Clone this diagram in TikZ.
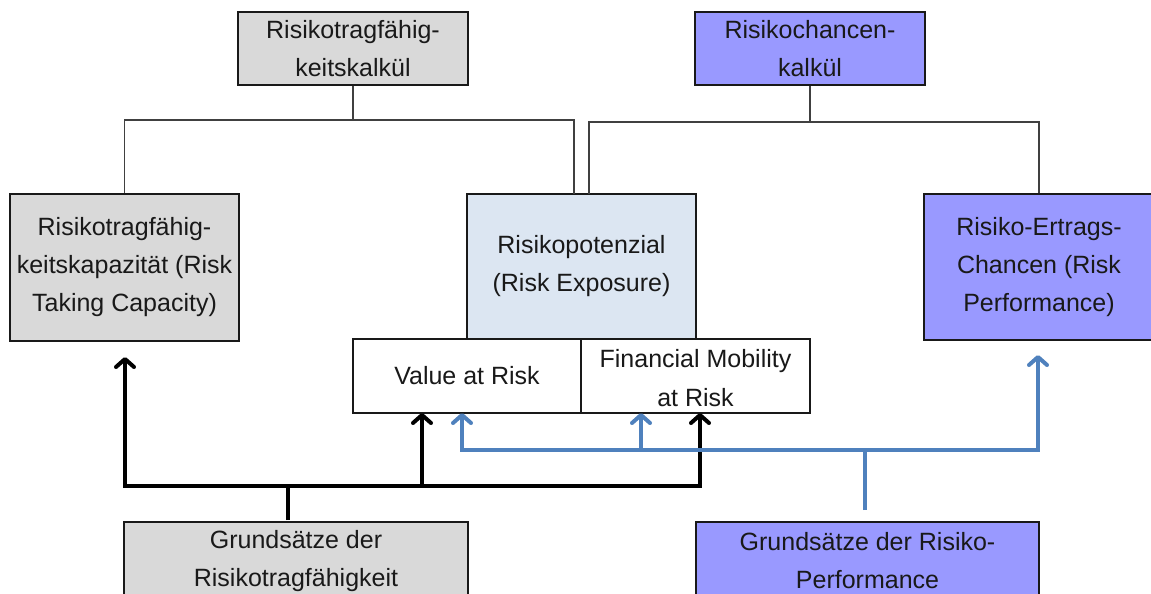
\documentclass[tikz,border=0pt]{standalone}
\usepackage{fontspec}
\setmainfont{Liberation Sans}
\usetikzlibrary{arrows.meta}
\definecolor{boxgray}{HTML}{D9D9D9}
\definecolor{boxpurple}{HTML}{9999FF}
\definecolor{boxlight}{HTML}{DCE6F2}
\definecolor{flowblue}{HTML}{4F81BD}
\definecolor{treeline}{HTML}{404040}
\begin{document}
\begin{tikzpicture}[x=1pt,y=-1pt,
  box/.style={draw=black!90,line width=1.5pt,rectangle,inner sep=0pt,align=center,
    font=\fontsize{25}{38}\selectfont,text=black!90},
  tree/.style={draw=treeline,line width=1.5pt},
  tipbar/.style={-{Straight Barb[length=8pt,width=18pt,line cap=round,line join=round]}},
  blk/.style={draw=black,line width=4pt},
  blu/.style={draw=flowblue,line width=4pt}]
\useasboundingbox (0,0) rectangle (1151,594);
\clip (0,0) rectangle (1151,594);

% upper level
\node[box,fill=boxgray,minimum width=230pt,minimum height=73pt] (tl) at (353,48.5)
  {Risikotragfähig-\\keitskalkül};
\node[box,fill=boxpurple,minimum width=230pt,minimum height=73pt] (tr) at (810,48.5)
  {Risikochancen-\\kalkül};

% middle level
\node[box,fill=boxgray,minimum width=229pt,minimum height=147pt] (lb) at (124.5,267.5)
  {Risikotragfähig-\\keitskapazität (Risk\\Taking Capacity)};
\node[box,fill=boxlight,minimum width=229pt,minimum height=145pt] (mb) at (581.5,266.5)
  {Risikopotenzial\\(Risk Exposure)};
\node[box,fill=boxpurple,minimum width=230pt,minimum height=146pt] (rb) at (1039,267)
  {Risiko-Ertrags-\\Chancen (Risk\\Performance)};
\node[box,fill=white,minimum width=228pt,minimum height=74pt] (var) at (467,376)
  {Value at Risk};
\node[box,fill=white,minimum width=229pt,minimum height=74pt] (fmr) at (695.5,376) {};
\node[box,draw=none,font=\fontsize{25}{39}\selectfont] (fmrt) at (695.5,378)
  {Financial Mobility\\at Risk};

% lower level
\node[box,fill=boxgray,minimum width=344pt,minimum height=78pt] (bl) at (296,561)
  {Grundsätze der\\Risikotragfähigkeit};
\node[box,fill=boxpurple,minimum width=343pt,minimum height=78pt] (br) at (867.5,561)
  {Grundsätze der Risiko-\\Performance};

% tree connectors
\coordinate (j1) at (353,120);
\coordinate (m1) at (574,194);
\draw[tree] (tl.south) -- (j1);
\draw[tree] (j1) -| (lb.north);
\draw[tree] (j1) -| (m1);
\coordinate (j2) at (810,122);
\coordinate (m2) at (589,194);
\draw[tree] (tr.south) -- (j2);
\draw[tree] (j2) -| (m2);
\draw[tree] (j2) -| (rb.north);

% black flow from the lower-left box
\coordinate (bs) at (288,520);
\coordinate (b0) at (288,486);
\coordinate (la) at (125,357);
\coordinate (va) at (422,413);
\coordinate (fa) at (700,413);
\draw[blk] (bs) -- (b0);
\draw[blk,tipbar] (b0) -| (la);
\draw[blk,tipbar] (b0) -| (va);
\draw[blk,tipbar] (b0) -| (fa);

% blue flow from the lower-right box
\coordinate (cs) at (865,510);
\coordinate (c0) at (865,450);
\coordinate (vb) at (462,413);
\coordinate (fb) at (641,413);
\coordinate (rc) at (1038,355);
\draw[blu] (cs) -- (c0);
\draw[blu,tipbar] (c0) -| (vb);
\draw[blu,tipbar] (c0) -| (fb);
\draw[blu,tipbar] (c0) -| (rc);
\end{tikzpicture}
\end{document}
